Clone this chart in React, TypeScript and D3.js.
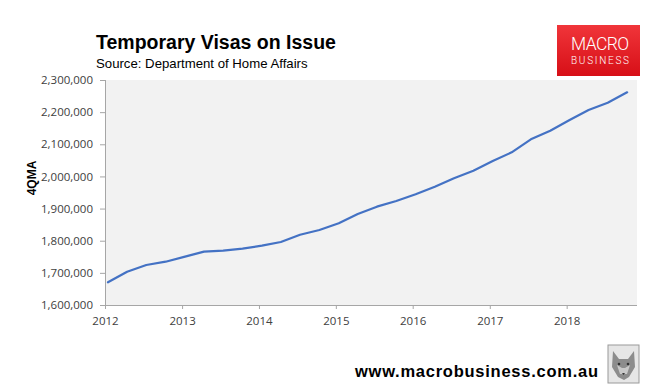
import React, { useEffect, useRef } from "react";
import * as d3 from "d3";

// quarterly observations, 4 quarter moving average
const quarterDates = [
  "2012-01-15", "2012-04-15", "2012-07-15", "2012-10-15",
  "2013-01-15", "2013-04-15", "2013-07-15", "2013-10-15",
  "2014-01-15", "2014-04-15", "2014-07-15", "2014-10-15",
  "2015-01-15", "2015-04-15", "2015-07-15", "2015-10-15",
  "2016-01-15", "2016-04-15", "2016-07-15", "2016-10-15",
  "2017-01-15", "2017-04-15", "2017-07-15", "2017-10-15",
  "2018-01-15", "2018-04-15", "2018-07-15", "2018-10-15",
];
const visasOnIssue = [
  1670600, 1703600, 1724400, 1734700,
  1750300, 1765900, 1769000, 1775200,
  1784500, 1796000, 1818700, 1833300,
  1854200, 1883100, 1905900, 1923600,
  1944400, 1968000, 1994200, 2017800,
  2048000, 2075000, 2115400, 2142300,
  2175500, 2206700, 2229400, 2261700,
];
const yTicks = [1600000, 1700000, 1800000, 1900000, 2000000, 2100000, 2200000, 2300000];
const xTickYears = [2012, 2013, 2014, 2015, 2016, 2017, 2018];

function renderChartFn(node: SVGSVGElement) {
  const svg = d3.select(node);
  svg.selectAll("*").remove();

  const plot = { left: 105, right: 637, top: 80, bottom: 305 };
  const axisColor = "#a6a6a6";
  const font = "'Liberation Sans', Arial, sans-serif";

  const xScale = d3
    .scaleTime()
    .domain([new Date(2012, 0, 1), new Date(2018, 11, 1)])
    .range([plot.left, plot.right]);
  const yScale = d3.scaleLinear().domain([1600000, 2300000]).range([plot.bottom, plot.top]);

  const defs = svg.append("defs");
  const grad = defs
    .append("linearGradient")
    .attr("id", "logoGrad")
    .attr("x1", 0)
    .attr("y1", 0)
    .attr("x2", 0)
    .attr("y2", 1);
  grad.append("stop").attr("offset", "0%").attr("stop-color", "#f0353a");
  grad.append("stop").attr("offset", "100%").attr("stop-color", "#d70f17");

  // plot background
  svg
    .append("rect")
    .attr("x", plot.left)
    .attr("y", plot.top)
    .attr("width", plot.right - plot.left)
    .attr("height", plot.bottom - plot.top)
    .attr("fill", "#f2f2f2");

  // y axis
  const yAxis = svg
    .append("g")
    .attr("transform", "translate(" + plot.left + ",0)")
    .call(
      d3
        .axisLeft(yScale)
        .tickValues(yTicks)
        .tickSize(5)
        .tickPadding(7)
        .tickFormat((d) => d3.format(",")(d as number))
    );
  yAxis.select(".domain").attr("stroke", axisColor).attr("d", "M0.5," + plot.top + "V" + plot.bottom);
  yAxis.selectAll(".tick line").attr("stroke", axisColor);
  yAxis
    .selectAll("text")
    .attr("font-family", "'Open Sans', sans-serif")
    .attr("font-size", 11.5)
    .attr("fill", "#404040");

  // x axis
  const xAxis = svg
    .append("g")
    .attr("transform", "translate(0," + plot.bottom + ")")
    .call(
      d3
        .axisBottom(xScale)
        .tickValues(xTickYears.map((y) => new Date(y, 0, 1)))
        .tickSize(4)
        .tickPadding(8)
        .tickFormat((d) => d3.timeFormat("%Y")(d as Date))
    );
  xAxis.select(".domain").attr("stroke", axisColor).attr("d", "M" + plot.left + ",0.5H" + plot.right);
  xAxis.selectAll(".tick line").attr("stroke", axisColor);
  xAxis
    .selectAll("text")
    .attr("font-family", "'Open Sans', sans-serif")
    .attr("font-size", 11.5)
    .attr("fill", "#404040");

  // series line
  const points = quarterDates.map((d, i) => ({ date: new Date(d), value: visasOnIssue[i] }));
  const line = d3
    .line<{ date: Date; value: number }>()
    .x((d) => xScale(d.date))
    .y((d) => yScale(d.value));
  svg
    .append("path")
    .datum(points)
    .attr("d", line)
    .attr("fill", "none")
    .attr("stroke", "#4472c4")
    .attr("stroke-width", 2.2)
    .attr("stroke-linejoin", "round")
    .attr("stroke-linecap", "round");

  // y label
  svg
    .append("text")
    .attr("transform", "translate(36,178) rotate(-90)")
    .attr("text-anchor", "middle")
    .attr("font-family", font)
    .attr("font-weight", "bold")
    .attr("font-size", 12)
    .attr("fill", "#000")
    .text("4QMA");

  // titles
  svg
    .append("text")
    .attr("x", 96)
    .attr("y", 49)
    .attr("font-family", font)
    .attr("font-weight", "bold")
    .attr("font-size", 19.5)
    .attr("fill", "#000")
    .text("Temporary Visas on Issue");
  svg
    .append("text")
    .attr("x", 96)
    .attr("y", 68)
    .attr("font-family", font)
    .attr("font-size", 13.2)
    .attr("fill", "#000")
    .text("Source: Department of Home Affairs");

  // logo
  svg
    .append("rect")
    .attr("x", 557)
    .attr("y", 25)
    .attr("width", 83)
    .attr("height", 51)
    .attr("fill", "url(#logoGrad)");
  svg
    .append("text")
    .attr("x", 600)
    .attr("y", 49.5)
    .attr("text-anchor", "middle")
    .attr("font-family", "Roboto, sans-serif")
    .attr("font-weight", 300)
    .attr("font-size", 17.5)
    .attr("textLength", 58)
    .attr("fill", "#fff")
    .text("MACRO");
  svg
    .append("text")
    .attr("x", 600)
    .attr("y", 63.5)
    .attr("text-anchor", "middle")
    .attr("font-family", "Roboto, sans-serif")
    .attr("font-weight", 300)
    .attr("font-size", 10)
    .attr("textLength", 58)
    .attr("fill", "#fff")
    .text("BUSINESS");

  // footer
  svg
    .append("text")
    .attr("x", 355)
    .attr("y", 377)
    .attr("font-family", font)
    .attr("font-weight", "bold")
    .attr("font-size", 16.5)
    .attr("textLength", 243)
    .attr("fill", "#000")
    .text("www.macrobusiness.com.au");

  // wolf thumbnail
  const wolf = svg.append("g").attr("transform", "translate(608,345)");
  wolf.append("rect").attr("width", 31).attr("height", 38).attr("fill", "#e6e6e6").attr("stroke", "#9a9a9a");
  wolf
    .append("path")
    .attr("d", "M5,6 L11,14 L20,14 L26,6 L27,22 L21,32 L16,35 L10,32 L4,22 Z")
    .attr("fill", "#8c8c8c");
  wolf.append("path").attr("d", "M9,20 L14,23 L17,23 L22,20 L19,29 L12,29 Z").attr("fill", "#c8c8c8");
  wolf.append("circle").attr("cx", 11).attr("cy", 19).attr("r", 1.3).attr("fill", "#333");
  wolf.append("circle").attr("cx", 20).attr("cy", 19).attr("r", 1.3).attr("fill", "#333");
  wolf.append("path").attr("d", "M14,28 L17,28 L15.5,30 Z").attr("fill", "#333");
}

const App: React.FC = () => {
  const ref = useRef<SVGSVGElement>(null);
  useEffect(() => {
    if (ref.current) renderChartFn(ref.current);
  }, []);
  return (
    <svg
      ref={ref}
      width={660}
      height={391}
      style={{ position: "absolute", left: 0, top: 0, background: "#fff" }}
    />
  );
};

export default App;
